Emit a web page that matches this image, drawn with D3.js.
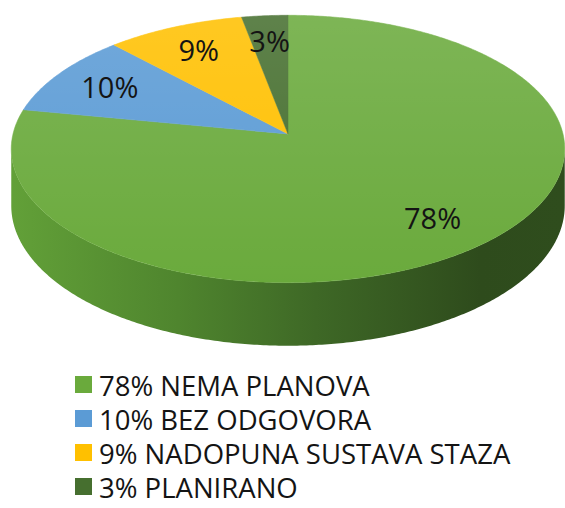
<!DOCTYPE html>
<html>
<head>
<meta charset="utf-8">
<script src="https://cdn.jsdelivr.net/npm/d3@7"></script>
<style>
  body { margin: 0; background: #fff; }
  svg { display: block; }
</style>
</head>
<body>
<div id="grafico"></div>
<script>
// Datos
const categorias = ["NEMA PLANOVA", "BEZ ODGOVORA", "NADOPUNA SUSTAVA STAZA", "PLANIRANO"];
const valores = [78, 10, 9, 3];
const colores = ["#6aaa3c", "#5b9bd5", "#ffc000", "#466f2f"];

const width = 565;
const height = 508;

// centro (vertice) del pie y tamaño de la elipse
const cx = 288, cy = 134;
const A = 275;      // radio horizontal
const B = 132;      // radio vertical
const k = 0.112;    // perspectiva
const depth = 56;   // altura del cilindro

// proyeccion: angulo (0 = arriba, horario), radio relativo, desplazamiento vertical
const proj = (a, r = 1, dz = 0) => {
  const u = Math.sin(a) * r, v = Math.cos(a) * r;
  const w = 1 + k * v;
  return [cx + A * u / w, cy + (dz - B * v) / w];
};

const pie = d3.pie().sort(null).value(d => d);
const arcos = pie(valores);

const line = d3.line();

const sampleArc = (a0, a1, dz) => {
  const n = Math.max(2, Math.ceil((a1 - a0) / 0.01));
  return d3.range(n + 1).map(i => proj(a0 + (a1 - a0) * i / n, 1, dz));
};

const svg = d3.select("#grafico")
  .append("svg")
  .attr("width", width)
  .attr("height", height);

const defs = svg.append("defs");

const gradLado = defs.append("linearGradient")
  .attr("id", "lado")
  .attr("gradientUnits", "userSpaceOnUse")
  .attr("x1", cx - A).attr("x2", cx + A).attr("y1", 0).attr("y2", 0);
gradLado.append("stop").attr("offset", "0%").attr("stop-color", "#62a038");
gradLado.append("stop").attr("offset", "30%").attr("stop-color", "#4f852e");
gradLado.append("stop").attr("offset", "55%").attr("stop-color", "#3e6826");
gradLado.append("stop").attr("offset", "85%").attr("stop-color", "#2e4b1c");
gradLado.append("stop").attr("offset", "100%").attr("stop-color", "#2f4d1d");

const gradTop = defs.append("linearGradient")
  .attr("id", "brillo")
  .attr("gradientUnits", "userSpaceOnUse")
  .attr("x1", 0).attr("x2", 0).attr("y1", cy - B).attr("y2", cy + B + 20);
gradTop.append("stop").attr("offset", "0%").attr("stop-color", "#fff").attr("stop-opacity", 0.14);
gradTop.append("stop").attr("offset", "100%").attr("stop-color", "#fff").attr("stop-opacity", 0);

// lado visible (frente) del cilindro
const frenteIni = Math.acos(-k);
const frenteFin = 2 * Math.PI - frenteIni;

arcos.forEach((d, i) => {
  const a0 = Math.max(d.startAngle, frenteIni);
  const a1 = Math.min(d.endAngle, frenteFin);
  if (a1 <= a0) return;
  const pts = sampleArc(a0, a1, 0).concat(sampleArc(a0, a1, depth).reverse());
  svg.append("path")
    .attr("d", line(pts) + "Z")
    .attr("fill", i === 0 ? "url(#lado)" : d3.color(colores[i]).darker(1));
});

// cara superior
svg.selectAll("path.slice")
  .data(arcos)
  .enter()
  .append("path")
  .attr("class", "slice")
  .attr("d", d => line([proj(0, 0)].concat(sampleArc(d.startAngle, d.endAngle, 0))) + "Z")
  .attr("fill", (d, i) => colores[i])
  .attr("stroke", (d, i) => colores[i])
  .attr("stroke-width", 0.5);

svg.append("path")
  .attr("d", line(sampleArc(0, 2 * Math.PI, 0)) + "Z")
  .attr("fill", "url(#brillo)");

// etiquetas
svg.selectAll("text.lbl")
  .data(arcos)
  .enter()
  .append("text")
  .attr("class", "lbl")
  .attr("x", d => proj((d.startAngle + d.endAngle) / 2, 0.77)[0])
  .attr("y", d => proj((d.startAngle + d.endAngle) / 2, 0.77)[1])
  .attr("text-anchor", "middle")
  .attr("dominant-baseline", "central")
  .attr("font-family", "'Open Sans', sans-serif")
  .attr("font-size", 29)
  .attr("fill", "#141414")
  .text(d => d.data + "%");

// leyenda
const leyenda = svg.append("g").attr("transform", "translate(75, 0)");
const yLeg = d3.scalePoint().domain(d3.range(categorias.length)).range([385, 487]);

leyenda.selectAll("rect")
  .data(categorias)
  .enter()
  .append("rect")
  .attr("x", 0)
  .attr("y", (d, i) => yLeg(i) - 9)
  .attr("width", 17)
  .attr("height", 17)
  .attr("fill", (d, i) => colores[i]);

leyenda.selectAll("text")
  .data(categorias)
  .enter()
  .append("text")
  .attr("x", 24)
  .attr("y", (d, i) => yLeg(i))
  .attr("dominant-baseline", "central")
  .attr("font-family", "'Open Sans', sans-serif")
  .attr("font-size", 27.5)
  .attr("fill", "#141414")
  .text((d, i) => valores[i] + "% " + d);
</script>
</body>
</html>
